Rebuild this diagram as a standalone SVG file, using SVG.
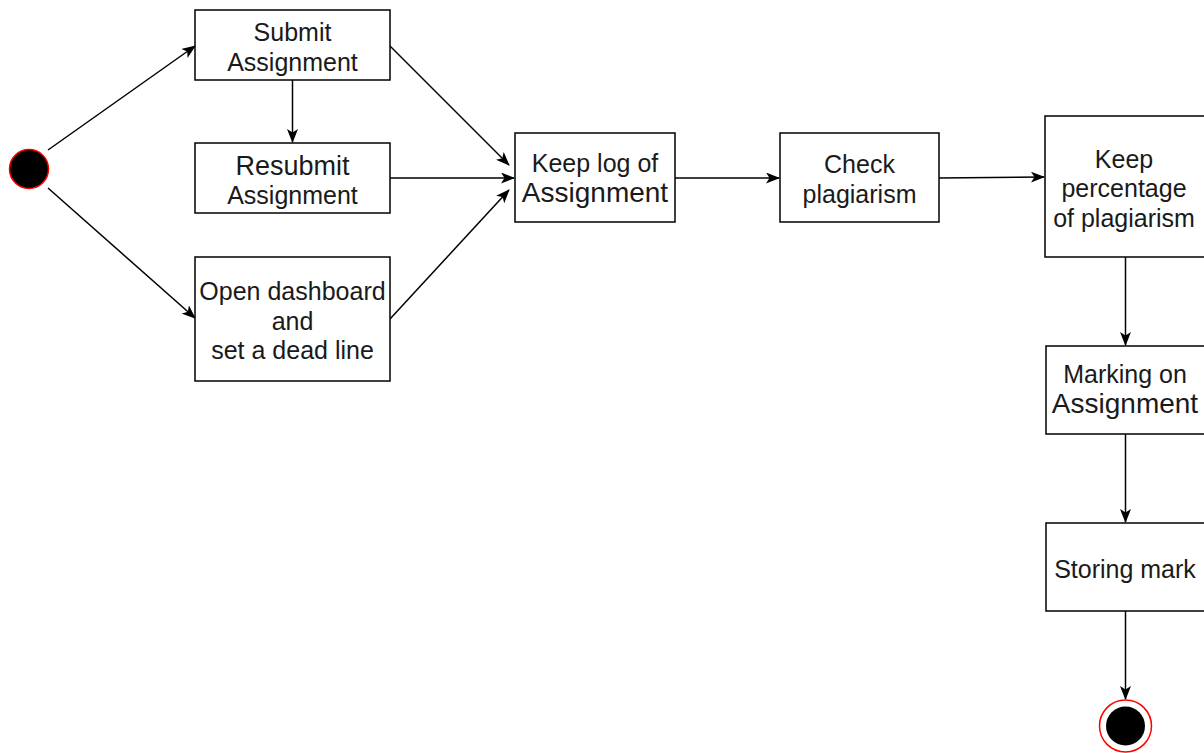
<svg xmlns="http://www.w3.org/2000/svg" width="1204" height="753" viewBox="0 0 1204 753">
  <style>
    .box { fill: #ffffff; stroke: #000000; stroke-width: 1.5; }
    .lbl { font-family: "Liberation Sans", Arial, sans-serif; font-size: 25px; fill: #1a1a1a; text-anchor: middle; }
    .big { font-size: 28px; }
    .mid { font-size: 27px; }
    .edge { fill: none; stroke: #000000; stroke-width: 1.5; marker-end: url(#arrow); }
  </style>
  <defs>
    <marker id="arrow" viewBox="0 0 14 11" refX="13" refY="5.5" markerWidth="14" markerHeight="11" markerUnits="userSpaceOnUse" orient="auto">
      <path d="M0,0 L14,5.5 L0,11 L3.5,5.5 z" fill="#000000"/>
    </marker>
  </defs>

  <rect width="1204" height="753" fill="#ffffff"/>

  <!-- connectors -->
  <g id="connectors">
    <line class="edge" x1="48" y1="150" x2="195" y2="46"/>
    <line class="edge" x1="48" y1="188" x2="195" y2="318"/>
    <line class="edge" x1="292.5" y1="80" x2="292.5" y2="142"/>
    <line class="edge" x1="390" y1="46" x2="509" y2="165"/>
    <line class="edge" x1="390" y1="178" x2="514" y2="178"/>
    <line class="edge" x1="390" y1="319" x2="509" y2="190"/>
    <line class="edge" x1="675" y1="178" x2="779" y2="178"/>
    <line class="edge" x1="939" y1="178" x2="1044" y2="177"/>
    <line class="edge" x1="1125.5" y1="257" x2="1125.5" y2="345"/>
    <line class="edge" x1="1125.5" y1="434" x2="1125.5" y2="522"/>
    <line class="edge" x1="1125.5" y1="611" x2="1125.5" y2="699"/>
  </g>

  <!-- initial state -->
  <g id="start">
    <circle cx="29" cy="169" r="19.5" fill="#000000" stroke="#ff0000" stroke-width="1.5"/>
  </g>

  <g id="submit">
    <rect class="box" x="195" y="10" width="195" height="70"/>
    <text class="lbl" x="292.5" y="41">Submit</text>
    <text class="lbl" x="292.5" y="71">Assignment</text>
  </g>

  <g id="resubmit">
    <rect class="box" x="195" y="143" width="195" height="70"/>
    <text class="lbl mid" x="292.5" y="175">Resubmit</text>
    <text class="lbl" x="292.5" y="204">Assignment</text>
  </g>

  <g id="dashboard">
    <rect class="box" x="195" y="257" width="195" height="124"/>
    <text class="lbl" x="292.5" y="300">Open dashboard</text>
    <text class="lbl" x="292.5" y="330">and</text>
    <text class="lbl" x="292.5" y="359">set a dead line</text>
  </g>

  <g id="keeplog">
    <rect class="box" x="515" y="133" width="160" height="89"/>
    <text class="lbl" x="595" y="172">Keep log of</text>
    <text class="lbl big" x="595" y="202">Assignment</text>
  </g>

  <g id="check">
    <rect class="box" x="780" y="133" width="159" height="89"/>
    <text class="lbl" x="859.5" y="173">Check</text>
    <text class="lbl" x="859.5" y="203">plagiarism</text>
  </g>

  <g id="percentage">
    <rect class="box" x="1045" y="116" width="161" height="141"/>
    <text class="lbl" x="1124" y="168">Keep</text>
    <text class="lbl" x="1124" y="197">percentage</text>
    <text class="lbl" x="1124" y="227">of plagiarism</text>
  </g>

  <g id="marking">
    <rect class="box" x="1046" y="346" width="160" height="88"/>
    <text class="lbl" x="1125" y="383">Marking on</text>
    <text class="lbl big" x="1125" y="413">Assignment</text>
  </g>

  <g id="storing">
    <rect class="box" x="1046" y="523" width="160" height="88"/>
    <text class="lbl" x="1125" y="578">Storing mark</text>
  </g>

  <!-- final state -->
  <g id="end">
    <circle cx="1125.5" cy="726" r="26" fill="#ffffff" stroke="#ff0000" stroke-width="1.5"/>
    <circle cx="1125.5" cy="726" r="19.5" fill="#000000"/>
  </g>
</svg>
